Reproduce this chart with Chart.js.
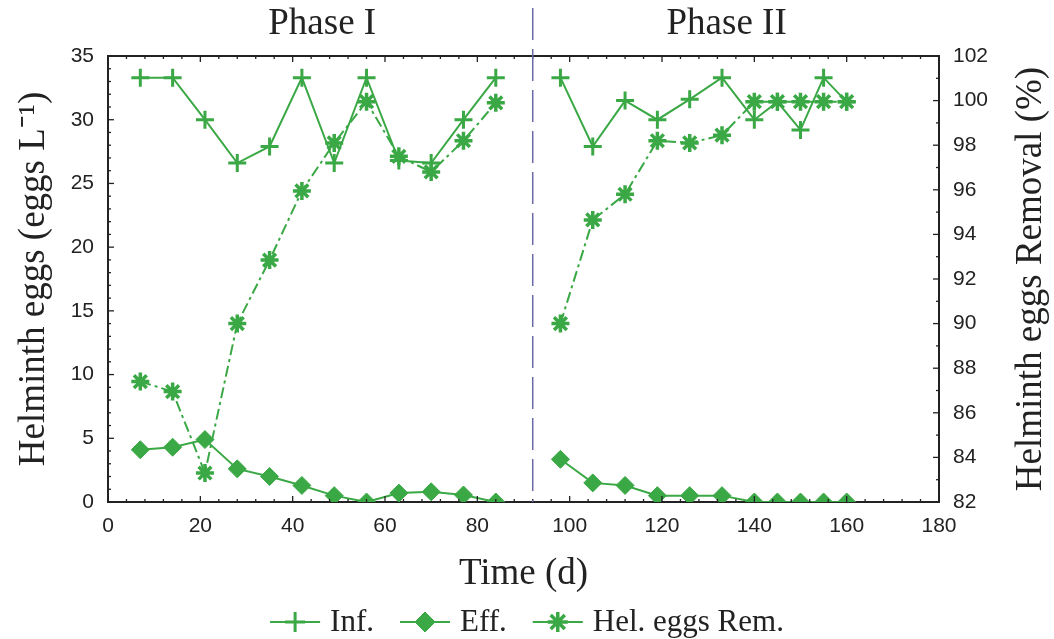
<!DOCTYPE html>
<html lang="en">
<head>
<meta charset="UTF-8">
<title>Helminth eggs - Phase I / Phase II</title>
<script src="https://cdn.jsdelivr.net/npm/chart.js"></script>
<style>
  html, body { margin: 0; padding: 0; background: #fff; }
  #wrap { width: 1054px; height: 639px; position: relative; }
</style>
</head>
<body>
<div id="wrap"><canvas id="eggsChart"></canvas></div>
<script>
// sampling days (d)
const daysPhase1 = [7, 14, 21, 28, 35, 42, 49, 56, 63, 70, 77, 84];
const daysPhase2 = [98, 105, 112, 119, 126, 133, 140, 145, 150, 155, 160];
const phaseSplitDay = 92;

// influent / effluent helminth eggs (eggs L-1)
const infPhase1 = [33.3, 33.3, 30.0, 26.6, 27.9, 33.3, 26.6, 33.3, 26.8, 26.6, 30.0, 33.3];
const infPhase2 = [33.3, 27.9, 31.5, 30.0, 31.6, 33.3, 30.0, 31.4, 29.2, 33.3, 31.4];
const effPhase1 = [4.1, 4.3, 4.9, 2.6, 2.0, 1.3, 0.5, 0.0, 0.7, 0.8, 0.55, 0.0];
const effPhase2 = [3.35, 1.5, 1.3, 0.5, 0.5, 0.5, 0.0, 0.0, 0.0, 0.0, 0.0];

// removal (%)
const remPhase1 = [87.4, 86.95, 83.3, 90.0, 92.85, 95.95, 98.1, 99.95, 97.5, 96.8, 98.2, 99.9];
const remPhase2 = [90.0, 94.65, 95.8, 98.2, 98.1, 98.45, 99.95, 99.95, 99.95, 99.95, 99.95];

const phaseLabels = ['Phase I', 'Phase II'];
const phaseLabelDays = [46.4, 134];
const rightTitle = 'Helminth eggs Removal (%)';

const green = '#3aa845';
const axisColor = '#222';
const serif = "'Liberation Serif', 'Times New Roman', serif";
const sans = "'Liberation Sans', Arial, sans-serif";

// join both phases, with a null point so the line breaks at the split
function joinPhases(v1, v2) {
    const pts = daysPhase1.map((d, i) => ({ x: d, y: v1[i] }));
    pts.push({ x: phaseSplitDay, y: null });
    return pts.concat(daysPhase2.map((d, i) => ({ x: d, y: v2[i] })));
}

const datasets = [
    {
        label: 'Inf.', data: joinPhases(infPhase1, infPhase2), yAxisID: 'y',
        borderColor: green, backgroundColor: green, borderWidth: 2,
        pointStyle: 'cross', pointRadius: 9, pointBorderWidth: 3, clip: 0
    },
    {
        label: 'Eff.', data: joinPhases(effPhase1, effPhase2), yAxisID: 'y',
        borderColor: green, backgroundColor: green, borderWidth: 2,
        pointStyle: 'rectRot', pointRadius: 9, pointBorderWidth: 1, clip: 0
    },
    {
        label: 'Hel. eggs Rem.', data: joinPhases(remPhase1, remPhase2), yAxisID: 'y2',
        borderColor: green, backgroundColor: green, borderWidth: 2, borderDash: [11, 4, 3, 4],
        pointStyle: 'star', pointRadius: 9, pointBorderWidth: 3.5, clip: 0
    }
];

// inward ticks on the frame, top border, phase split line, labels, right title, legend
const frameDecor = {
    id: 'frameDecor',
    afterDraw(chart) {
        const { ctx, chartArea: a, scales } = chart;
        ctx.save();
        ctx.strokeStyle = axisColor;
        ctx.lineWidth = 2;
        ctx.beginPath();
        ctx.moveTo(a.left - 1, a.top);
        ctx.lineTo(a.right + 1, a.top);
        ctx.stroke();

        ctx.lineWidth = 1.3;
        const ticks = (scale, step, major, len, sides) => {
            for (let v = scale.min; v <= scale.max + 1e-9; v += step) {
                if (!major && Math.abs((v - scale.min) / scale.options.ticks.stepSize % 1) < 1e-6) continue;
                const p = scale.getPixelForValue(v);
                ctx.beginPath();
                sides.forEach(s => {
                    if (s === 'bottom') { ctx.moveTo(p, a.bottom); ctx.lineTo(p, a.bottom - len); }
                    if (s === 'top') { ctx.moveTo(p, a.top); ctx.lineTo(p, a.top + len); }
                    if (s === 'left') { ctx.moveTo(a.left, p); ctx.lineTo(a.left + len, p); }
                    if (s === 'right') { ctx.moveTo(a.right, p); ctx.lineTo(a.right - len, p); }
                });
                ctx.stroke();
            }
        };
        ticks(scales.x, 20, true, 6, ['bottom', 'top']);
        ticks(scales.x, 4, false, 3, ['bottom', 'top']);
        ticks(scales.y, 5, true, 6, ['left']);
        ticks(scales.y, 1, false, 3, ['left']);
        ticks(scales.y2, 2, true, 6, ['right']);
        ticks(scales.y2, 1, false, 3, ['right']);

        // phase split
        const xs = scales.x.getPixelForValue(phaseSplitDay);
        ctx.strokeStyle = '#6a6aa8';
        ctx.lineWidth = 1.5;
        ctx.setLineDash([32, 9]);
        ctx.beginPath();
        ctx.moveTo(xs, 8);
        ctx.lineTo(xs, a.bottom);
        ctx.stroke();
        ctx.setLineDash([]);

        ctx.fillStyle = axisColor;
        ctx.font = '37px ' + serif;
        ctx.textAlign = 'center';
        ctx.textBaseline = 'middle';
        phaseLabels.forEach((t, i) => {
            ctx.fillText(t, scales.x.getPixelForValue(phaseLabelDays[i]), 24);
        });

        // right axis title, reading bottom to top like the left one
        ctx.save();
        ctx.translate(1031, (a.top + a.bottom) / 2);
        ctx.rotate(-Math.PI / 2);
        ctx.fillText(rightTitle, 0, 0);
        ctx.restore();

        // legend at the bottom
        ctx.font = '31px ' + serif;
        ctx.textAlign = 'left';
        const lineLen = 50, gap = 10, itemGap = 26, yLeg = 622;
        const widths = datasets.map(d => ctx.measureText(d.label).width);
        const total = widths.reduce((s, w) => s + lineLen + gap + w, 0) + itemGap * (datasets.length - 1);
        let x = (chart.width - total) / 2;
        datasets.forEach((d, i) => {
            ctx.strokeStyle = green;
            ctx.fillStyle = green;
            ctx.lineWidth = 2;
            ctx.beginPath();
            ctx.moveTo(x, yLeg);
            ctx.lineTo(x + lineLen, yLeg);
            ctx.stroke();
            ctx.lineWidth = d.pointBorderWidth;
            Chart.helpers.drawPoint(ctx, {
                pointStyle: d.pointStyle, radius: d.pointRadius + 1, rotation: 0, borderWidth: d.pointBorderWidth
            }, x + lineLen / 2, yLeg);
            ctx.fillStyle = axisColor;
            ctx.fillText(d.label, x + lineLen + gap, yLeg + 1);
            x += lineLen + gap + widths[i] + itemGap;
        });
        ctx.restore();
    }
};

const tickFont = { family: sans, size: 21 };
const titleFont = { family: serif, size: 37, lineHeight: 1 };

new Chart(document.getElementById('eggsChart'), {
    type: 'line',
    data: { datasets: datasets },
    options: {
        responsive: true,
        maintainAspectRatio: false,
        animation: false,
        spanGaps: false,
        layout: { padding: { top: 56, bottom: 45, left: 0, right: 0 } },
        plugins: { legend: { display: false }, tooltip: { enabled: false } },
        scales: {
            x: {
                type: 'linear', position: 'bottom', min: 0, max: 180,
                ticks: { stepSize: 20, font: tickFont, color: axisColor, padding: 12, maxRotation: 0 },
                grid: { display: false, drawTicks: false },
                border: { display: true, color: axisColor, width: 2 },
                title: { display: true, text: 'Time (d)', font: titleFont, color: axisColor, padding: { top: 0, bottom: 1 } },
                afterFit: s => { s.height = 92; }
            },
            y: {
                position: 'left', min: 0, max: 35,
                ticks: { stepSize: 5, font: tickFont, color: axisColor, padding: 14 },
                grid: { display: false, drawTicks: false },
                border: { display: true, color: axisColor, width: 2 },
                title: { display: true, text: 'Helminth eggs (eggs L\u207B\u00B9)', font: titleFont, color: axisColor, padding: { top: 16, bottom: 0 } },
                afterFit: s => { s.width = 108; }
            },
            y2: {
                position: 'right', min: 82, max: 102,
                ticks: { stepSize: 2, font: tickFont, color: axisColor, padding: 14 },
                grid: { display: false, drawTicks: false },
                border: { display: true, color: axisColor, width: 2 },
                title: { display: false },
                afterFit: s => { s.width = 115; }
            }
        }
    },
    plugins: [frameDecor]
});
</script>
</body>
</html>
